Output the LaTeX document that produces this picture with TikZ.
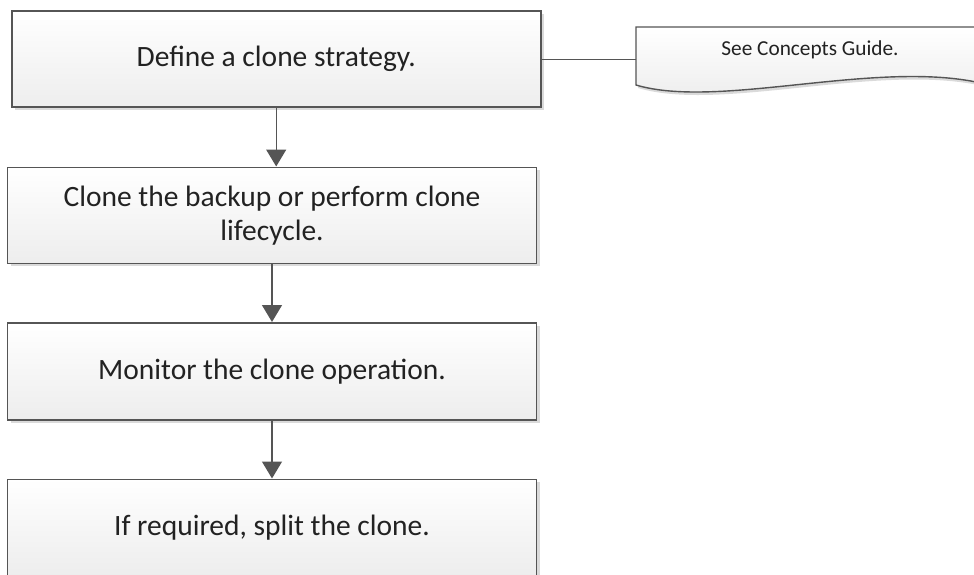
\documentclass[tikz,border=0pt]{standalone}
\usepackage{fontspec}
\setmainfont{Carlito}
\usetikzlibrary{arrows.meta,shadows}
\definecolor{edgegray}{HTML}{555555}
\definecolor{txtgray}{HTML}{222222}
\definecolor{shadowgray}{HTML}{DADADA}
\tikzset{
  box/.style={draw=edgegray, line width=1.6pt, top color=white, bottom color=black!7,
    minimum width=529pt, minimum height=96pt, inner sep=0pt, text=txtgray,
    align=center, font=\fontsize{29.5}{34}\selectfont,
    drop shadow={shadow xshift=3pt, shadow yshift=-3pt, fill=shadowgray, opacity=1}},
  flowarrow/.style={draw=edgegray, line width=1.4pt, -{Triangle[width=20pt,length=17pt]}},
  link/.style={draw=edgegray, line width=1.4pt},
  notestyle/.style={draw=edgegray, line width=1.4pt, top color=white, bottom color=black!8,
    drop shadow={shadow xshift=2pt, shadow yshift=-3pt, fill=shadowgray, opacity=1}},
  notetext/.style={text=txtgray, font=\fontsize{21.3}{25}\selectfont, inner sep=0pt}
}
\begin{document}
\begin{tikzpicture}[x=1pt,y=-1pt]
\useasboundingbox (0,0) rectangle (974,574);
\clip (0,0) rectangle (974,574);
% note shape
\path[notestyle] (636,27) -- (985,27) -- (985,84)
  .. controls (880,58) and (720,110) .. (636,85) -- cycle;
\node[notetext] (note) at (810,50) {See Concepts Guide.};
\coordinate (noteL) at (636,59.2);
% boxes
\node[box] (b1) at (276.2,59.2) {Define a clone strategy.};
\node[box] (b2) at (272,215.3) {Clone the backup or perform clone\\lifecycle.};
\node[box, minimum height=97pt] (b3) at (272,371.3) {Monitor the clone operation.};
\node[box] (b4) at (272,527.3) {If required, split the clone.};
% connectors
\draw[link] (b1.east) -- (noteL);
\draw[flowarrow] (b1.south) -- (b1.south |- b2.north);
\draw[flowarrow] (b2.south) -- (b3.north);
\draw[flowarrow] (b3.south) -- (b4.north);
\end{tikzpicture}
\end{document}
